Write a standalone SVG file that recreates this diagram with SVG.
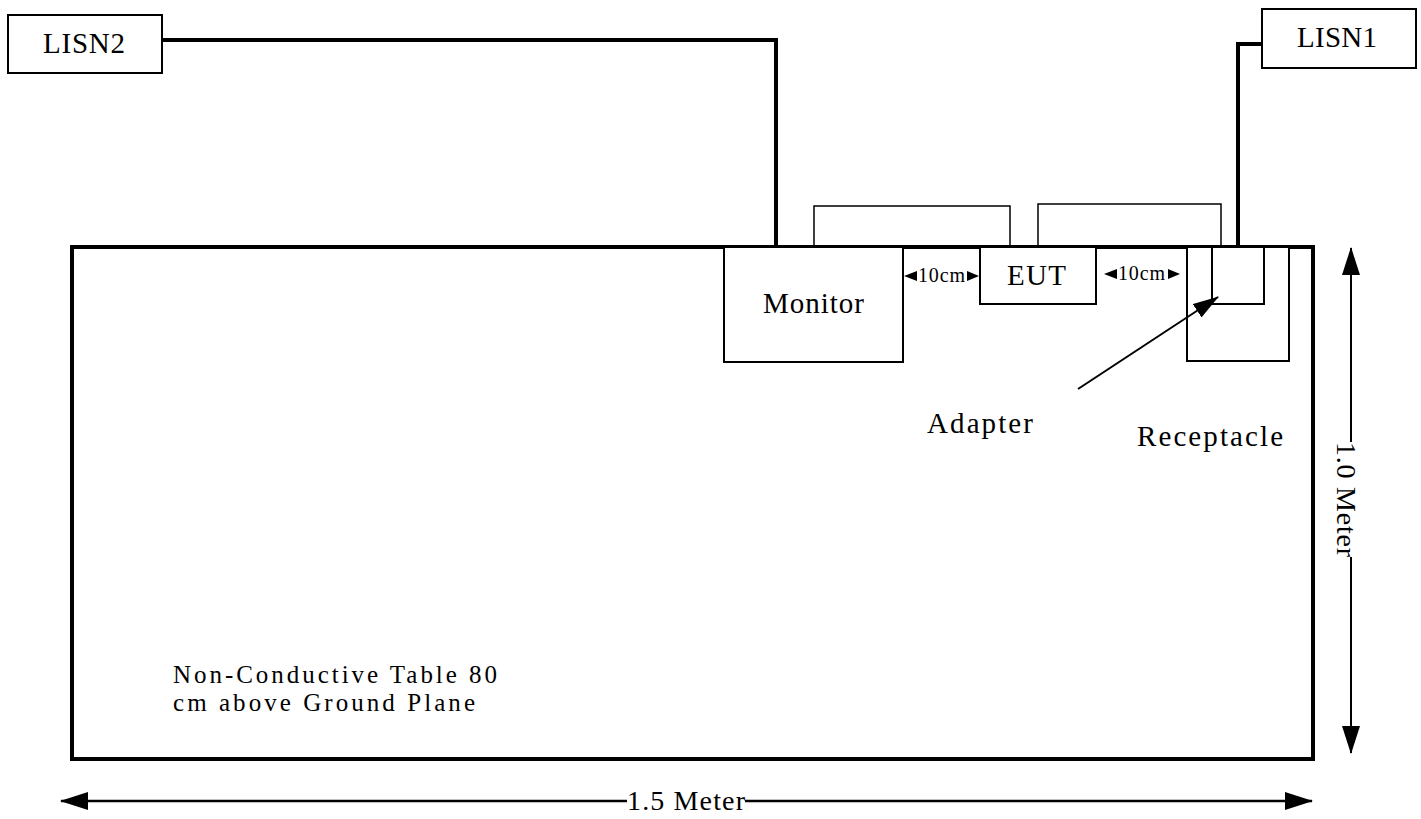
<svg xmlns="http://www.w3.org/2000/svg" width="1421" height="819" viewBox="0 0 1421 819">
<style>
text { font-family: "Liberation Serif", "Times New Roman", serif; fill: #000; }
.lbl { font-size: 29px; }
.note { font-size: 25px; }
.small { font-size: 20px; }
.box { fill: #fff; stroke: #000; stroke-width: 2; }
.table { fill: #fff; stroke: #000; stroke-width: 4; }
.cable { fill: none; stroke: #000; stroke-width: 1.5; }
.wire { fill: none; stroke: #000; stroke-width: 4; stroke-linejoin: miter; }
.dim { fill: none; stroke: #000; }
.tri { fill: #000; }
</style>
<defs>
<marker id="dimArrow" viewBox="0 0 28 18" refX="27" refY="9" markerWidth="28" markerHeight="18" markerUnits="userSpaceOnUse" orient="auto-start-reverse">
<path d="M0,0 L28,9 L0,18 z" fill="#000"/>
</marker>
<marker id="ptrArrow" viewBox="0 0 26 16" refX="25" refY="8" markerWidth="26" markerHeight="16" markerUnits="userSpaceOnUse" orient="auto">
<path d="M0,0 L26,8 L0,16 z" fill="#000"/>
</marker>
</defs>

<g id="table">
<rect class="table" x="72" y="247" width="1241" height="512"/>
<text class="note" x="173" y="683" textLength="324" lengthAdjust="spacing">Non-Conductive Table 80</text>
<text class="note" x="173" y="711" textLength="302" lengthAdjust="spacing">cm above Ground Plane</text>
</g>

<g id="connectors">
<polyline class="wire" points="162,40 776,40 776,247"/>
<polyline class="wire" points="1238,247 1238,44 1262,44"/>
<polyline id="cable1" class="cable" points="814,247 814,206 1010,206 1010,247"/>
<polyline id="cable2" class="cable" points="1038,247 1038,204 1221,204 1221,247"/>
</g>

<g id="lisn2">
<rect class="box" x="8" y="15" width="154" height="58"/>
<text class="lbl" x="43" y="53" textLength="82" lengthAdjust="spacing">LISN2</text>
</g>

<g id="lisn1">
<rect class="box" x="1262" y="9" width="154" height="59"/>
<text class="lbl" x="1297" y="47" textLength="80" lengthAdjust="spacing">LISN1</text>
</g>

<g id="monitor">
<rect class="box" x="724" y="247" width="179" height="115"/>
<text class="lbl" x="763" y="313" textLength="101" lengthAdjust="spacing">Monitor</text>
</g>

<g id="eut">
<rect class="box" x="980" y="247" width="116" height="57"/>
<text class="lbl" x="1007" y="285" textLength="59" lengthAdjust="spacing">EUT</text>
</g>

<g id="receptacle">
<rect class="box" x="1187" y="247" width="102" height="114"/>
<text class="lbl" x="1137" y="446" textLength="146" lengthAdjust="spacing">Receptacle</text>
</g>

<g id="adapter">
<rect class="box" x="1212" y="247" width="52" height="57"/>
<text class="lbl" x="927" y="433" textLength="106" lengthAdjust="spacing">Adapter</text>
</g>

<g id="adapter-pointer">
<line class="dim" x1="1078" y1="389" x2="1218" y2="297" stroke-width="2" marker-end="url(#ptrArrow)"/>
</g>

<g id="spacing1">
<polygon class="tri" points="904,276 917,271 917,281"/>
<text class="small" x="918" y="282" textLength="47" lengthAdjust="spacing">10cm</text>
<polygon class="tri" points="979,276 967,271 967,281"/>
</g>

<g id="spacing2">
<polygon class="tri" points="1104,274 1117,269 1117,279"/>
<text class="small" x="1118" y="280" textLength="47" lengthAdjust="spacing">10cm</text>
<polygon class="tri" points="1180,274 1168,269 1168,279"/>
</g>

<g id="dim-width">
<line class="dim" x1="627" y1="801" x2="61" y2="801" stroke-width="2.5" marker-end="url(#dimArrow)"/>
<line class="dim" x1="745" y1="801" x2="1312" y2="801" stroke-width="2.5" marker-end="url(#dimArrow)"/>
<text class="lbl" x="627" y="810" textLength="118" lengthAdjust="spacing" style="font-size:28px">1.5 Meter</text>
</g>

<g id="dim-depth">
<line class="dim" x1="1351" y1="442" x2="1351" y2="248" stroke-width="2" marker-end="url(#dimArrow)"/>
<line class="dim" x1="1351" y1="557" x2="1351" y2="753" stroke-width="2" marker-end="url(#dimArrow)"/>
<text class="lbl" transform="translate(1337,442) rotate(90)" x="0" y="0" textLength="115" lengthAdjust="spacing" style="font-size:28px">1.0 Meter</text>
</g>
</svg>
